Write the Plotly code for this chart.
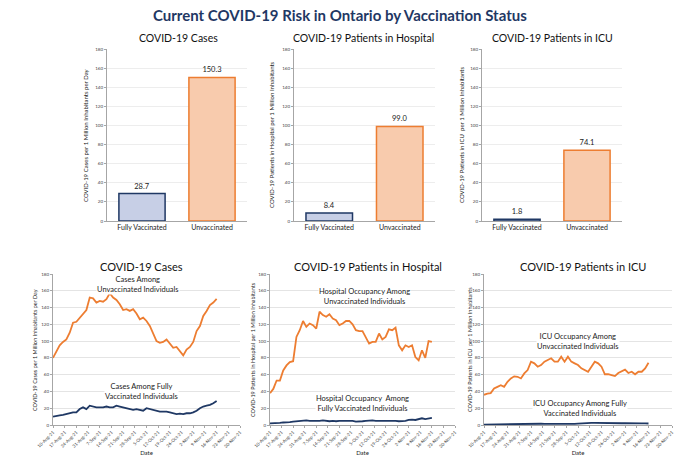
import pandas as pd
import plotly.graph_objects as go

# ---- data -------------------------------------------------------------
status = ['Fully Vaccinated', 'Unvaccinated']
cases_now = [28.7, 150.3]
hosp_now = [8.4, 99.0]
icu_now = [1.8, 74.1]

start_date = '2021-08-10'
end_date = '2021-11-16'

cases_unvax = [80, 88, 95, 99, 102, 110, 122, 123, 128, 133,
               137, 152, 151, 146, 148, 147, 150, 157, 152, 149,
               144, 137, 138, 136, 138, 133, 126, 128, 124, 118,
               110, 100, 98, 99, 102, 97, 92, 93, 88, 83,
               90, 93, 99, 112, 118, 130, 136, 143, 146, 150.3]
cases_vax = [10, 11, 11.5, 12, 13, 14, 15, 15, 19, 21,
             19, 23, 22, 21, 21, 21, 22, 21, 21, 23,
             22, 21, 20, 19, 18, 19, 18, 17, 20, 19,
             18, 17, 16, 16, 16, 15, 14, 13, 13.5, 13,
             14, 14, 15, 17, 20, 22, 23, 24, 26, 28.7]
hosp_unvax = [38, 43, 53, 53, 65, 71, 75, 76, 105, 113,
              124, 117, 121, 119, 115, 135, 131, 129, 132, 127,
              125, 119, 121, 124, 124, 120, 113, 112, 112, 105,
              97, 99, 99, 109, 102, 105, 114, 113, 116, 95,
              89, 95, 93, 95, 81, 77, 89, 80, 100, 99.0]
hosp_vax = [2, 2, 2, 2.5, 3, 3, 3.5, 4, 4.5, 4.5,
            5, 5.5, 5, 5, 4.5, 5, 5.5, 5, 4.5, 5,
            4.5, 5, 5, 5, 4.5, 5, 4, 4, 4.5, 5,
            5.5, 5.5, 5, 5, 5.5, 5, 5, 5.5, 5, 4.5,
            4.5, 5, 6, 6.5, 6, 7, 8, 7, 8, 8.4]
icu_unvax = [36, 37.5, 38, 43.5, 45.5, 47.5, 45.5, 51.5, 55.5, 58,
             57.5, 55.5, 61.5, 65.5, 75.5, 73.5, 69.5, 71.5, 75.5, 77.5,
             79.5, 75.5, 75.5, 81.5, 75.5, 81.5, 75.5, 73.5, 71.5, 67.5,
             65.5, 63.5, 69.5, 75.5, 73.5, 69.5, 60.5, 60.5, 59.5, 58.3,
             62, 64, 66, 62, 63.5, 60.5, 63.5, 63.5, 67.5, 74.1]
icu_vax = [0.5, 0.6, 0.7, 0.8, 0.9, 1, 1.1, 1.2, 1.3, 1.5,
           1.5, 1.6, 1.5, 1.5, 1.4, 1.5, 1.6, 1.5, 1.4, 1.3,
           1.2, 1.3, 1.2, 1.1, 1.0, 1.1, 1.2, 1.4, 1.6, 2.0,
           2.2, 2.5, 2.6, 2.5, 2.4, 2.2, 2.0, 1.8, 1.8, 1.9,
           2.0, 2.1, 2.2, 2.3, 2.5, 2.4, 2.2, 2.0, 1.9, 1.8]

dates = pd.date_range(start_date, end_date, freq='2D')

bar_titles = ['COVID-19 Cases', 'COVID-19 Patients in Hospital', 'COVID-19 Patients in ICU']
y_titles = ['COVID-19 Cases per 1 Million Inhabitants per Day',
            'COVID-19 Patients in Hospital per 1 Million Inhabitants',
            'COVID-19 Patients in ICU  per 1 Million Inhabitants']
notes_unvax = ['Cases Among<br>Unvaccinated Individuals',
               'Hospital Occupancy Among<br>Unvaccinated Individuals',
               'ICU Occupancy Among<br>Unvaccinated Individuals']
notes_vax = ['Cases Among Fully<br>Vaccinated Individuals',
             'Hospital Occupancy  Among<br>Fully Vaccinated Individuals',
             'ICU Occupancy Among Fully<br>Vaccinated Individuals']
note_unvax_pos = [('2021-09-30', 168), ('2021-10-06', 153), ('2021-10-05', 100)]
note_vax_pos = [('2021-10-02', 39.5), ('2021-10-05', 25.5), ('2021-10-06', 20)]

# ---- styles -----------------------------------------------------------
NAVY = '#1f3864'
ORANGE = '#ed7d31'
FONT = 'Lato'
W, H = 680, 470

top_dom = [(107, 247), (294, 435), (482, 622)]
bot_dom = [(53, 240), (270, 455), (484, 672)]
top_y = (49, 221)
bot_y = (274, 425)
top_title_x = [178, 363, 552]
bot_title_x = [141, 368, 583]
top_ytitle_x = [85, 271, 461]
bot_ytitle_x = [35, 253, 470]


def dx(a, b):
    return [a / W, b / W]


def dy(a, b):
    return [1 - b / H, 1 - a / H]


def paper_note(text, px, py, size, angle=0, color='#222'):
    return dict(text=text, x=px / W, y=1 - py / H, xref='paper', yref='paper',
                xanchor='center', yanchor='middle', showarrow=False,
                textangle=angle, font=dict(size=size, color=color))


fig = go.Figure()
layout = {}
annotations = []

top_vals = [cases_now, hosp_now, icu_now]
bot_unvax = [cases_unvax, hosp_unvax, icu_unvax]
bot_vax = [cases_vax, hosp_vax, icu_vax]

for i in range(3):
    # top bar panel
    n = i + 1
    xa = 'x' if n == 1 else 'x%d' % n
    ya = 'y' if n == 1 else 'y%d' % n
    fig.add_trace(go.Bar(
        x=status, y=top_vals[i], xaxis=xa, yaxis=ya,
        marker=dict(color=['#c7cfe6', '#f8cbad'],
                    line=dict(color=[NAVY, ORANGE], width=1.5)),
        width=0.66,
        text=['%.1f' % v for v in top_vals[i]], textposition='outside',
        textfont=dict(size=7.5, color='#222'), cliponaxis=False,
        showlegend=False))
    layout['xaxis' if n == 1 else 'xaxis%d' % n] = dict(
        domain=dx(*top_dom[i]), anchor=ya, range=[-0.5, 1.5], automargin=False,
        showline=True, linecolor='#a6a6a6',
        tickfont=dict(size=7, color='#222'), ticks='', showgrid=False)
    layout['yaxis' if n == 1 else 'yaxis%d' % n] = dict(
        domain=dy(*top_y), anchor=xa, range=[0, 180], dtick=20, automargin=False,
        showline=True, linecolor='#a6a6a6', ticks='outside', ticklen=2,
        tickcolor='#a6a6a6', tickfont=dict(size=4.5, color='#444'),
        gridcolor='#ededed', zeroline=False)
    annotations.append(paper_note(bar_titles[i], top_title_x[i], 38, 10.5, color='#111'))
    annotations.append(paper_note(y_titles[i], top_ytitle_x[i], 135, 6, angle=-90))

    # bottom line panel
    n = i + 4
    xa = 'x%d' % n
    ya = 'y%d' % n
    fig.add_trace(go.Scatter(x=dates, y=bot_unvax[i], xaxis=xa, yaxis=ya,
                             mode='lines', line=dict(color=ORANGE, width=1.8),
                             showlegend=False))
    fig.add_trace(go.Scatter(x=dates, y=bot_vax[i], xaxis=xa, yaxis=ya,
                             mode='lines', line=dict(color=NAVY, width=1.8),
                             showlegend=False))
    layout['xaxis%d' % n] = dict(
        domain=dx(*bot_dom[i]), anchor=ya, type='date', automargin=False,
        range=['2021-08-10', '2021-11-30'], tick0='2021-08-10',
        dtick=7 * 24 * 3600 * 1000, tickformat='%-d-%b-%y', tickangle=-45,
        showline=True, linecolor='#a6a6a6', ticks='outside', ticklen=2,
        tickcolor='#a6a6a6', tickfont=dict(size=4.5, color='#444'),
        showgrid=False, title=dict(text='Date', font=dict(size=6, color='#222'),
                                   standoff=2))
    layout['yaxis%d' % n] = dict(
        domain=dy(*bot_y), anchor=xa, range=[0, 180], dtick=20, automargin=False,
        showline=True, linecolor='#a6a6a6', ticks='outside', ticklen=2,
        tickcolor='#a6a6a6', tickfont=dict(size=4.5, color='#444'),
        gridcolor='#e4e4e4', zeroline=False)
    annotations.append(paper_note(bar_titles[i], bot_title_x[i], 266, 11, color='#111'))
    annotations.append(paper_note(y_titles[i], bot_ytitle_x[i], 350, 5.5, angle=-90))
    annotations.append(dict(text=notes_unvax[i], x=note_unvax_pos[i][0],
                            y=note_unvax_pos[i][1], xref=xa, yref=ya,
                            showarrow=False, bgcolor='white', borderpad=0,
                            font=dict(size=7.5, color='#222')))
    annotations.append(dict(text=notes_vax[i], x=note_vax_pos[i][0],
                            y=note_vax_pos[i][1], xref=xa, yref=ya,
                            showarrow=False, bgcolor='white', borderpad=0,
                            font=dict(size=7.5, color='#222')))

annotations.append(paper_note('<b>Current COVID-19 Risk in Ontario by Vaccination Status</b>',
                              340, 15, 15, color=NAVY))

fig.update_layout(
    width=W, height=H, autosize=False,
    margin=dict(l=0, r=0, t=0, b=0, pad=0, autoexpand=False),
    paper_bgcolor='white', plot_bgcolor='white',
    font=dict(family=FONT),
    annotations=annotations,
    **layout
)

# drop the browser's default body margin so the figure sits at the page corner
fig.write_html("out.html", config={'displayModeBar': False, 'responsive': False},
               post_script="document.body.style.margin='0px';"
                           "document.body.style.overflow='hidden';")
